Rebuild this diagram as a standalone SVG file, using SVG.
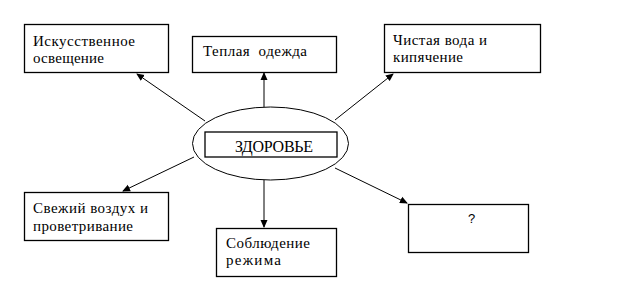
<svg xmlns="http://www.w3.org/2000/svg" width="637" height="301" viewBox="0 0 637 301">
<style>
.box{fill:#fff;stroke:#000;stroke-width:1.3}
.c{stroke:#000;stroke-width:1;fill:none}
</style>
<defs>
<marker id="ah" markerWidth="8" markerHeight="8" refX="7" refY="4" orient="auto" markerUnits="userSpaceOnUse">
<path d="M0,0.5 L8,4 L0,7.5 Z" fill="#000"/>
</marker>
</defs>
<rect width="637" height="301" fill="#fff"/>
<g id="connectors">
<line class="c" x1="205" y1="121" x2="137" y2="74" marker-end="url(#ah)"/>
<line class="c" x1="264" y1="107" x2="264" y2="73" marker-end="url(#ah)"/>
<line class="c" x1="335" y1="120" x2="393" y2="74" marker-end="url(#ah)"/>
<line class="c" x1="194" y1="157" x2="123" y2="191" marker-end="url(#ah)"/>
<line class="c" x1="264" y1="180" x2="264" y2="227" marker-end="url(#ah)"/>
<line class="c" x1="335" y1="168" x2="407" y2="203" marker-end="url(#ah)"/>
</g>
<g font-family="Liberation Serif, Times New Roman, serif" font-size="15" fill="#000">
<g id="n-center">
<ellipse cx="270.5" cy="143.5" rx="78" ry="36.5" fill="#fff" stroke="#000" stroke-width="1"/>
<rect class="box" x="205" y="132" width="132" height="25"/>
<text x="235" y="152" font-size="16" textLength="78">ЗДОРОВЬЕ</text>
</g>
<g id="n1">
<rect class="box" x="24.5" y="24.5" width="144" height="48"/>
<text x="33" y="46" textLength="102">Искусственное</text>
<text x="33" y="63" textLength="71">освещение</text>
</g>
<g id="n2">
<rect class="box" x="192.5" y="36.5" width="144" height="36"/>
<text x="203" y="56" xml:space="preserve" textLength="104">Теплая  одежда</text>
</g>
<g id="n3">
<rect class="box" x="384.5" y="24.5" width="156" height="48"/>
<text x="393" y="45" textLength="94">Чистая вода и</text>
<text x="393" y="62" textLength="70">кипячение</text>
</g>
<g id="n4">
<rect class="box" x="24.5" y="192.5" width="144" height="48"/>
<text x="33" y="213" textLength="115">Свежий воздух и</text>
<text x="33" y="231" textLength="100">проветривание</text>
</g>
<g id="n5">
<rect class="box" x="216.5" y="228.5" width="120" height="48"/>
<text x="226" y="248" textLength="84">Соблюдение</text>
<text x="226" y="265" textLength="55">режима</text>
</g>
<g id="n6">
<rect class="box" x="408.5" y="204.5" width="120" height="48"/>
<text x="468" y="223" font-family="Liberation Sans, Arial, sans-serif" font-size="13">?</text>
</g>
</g>
</svg>
